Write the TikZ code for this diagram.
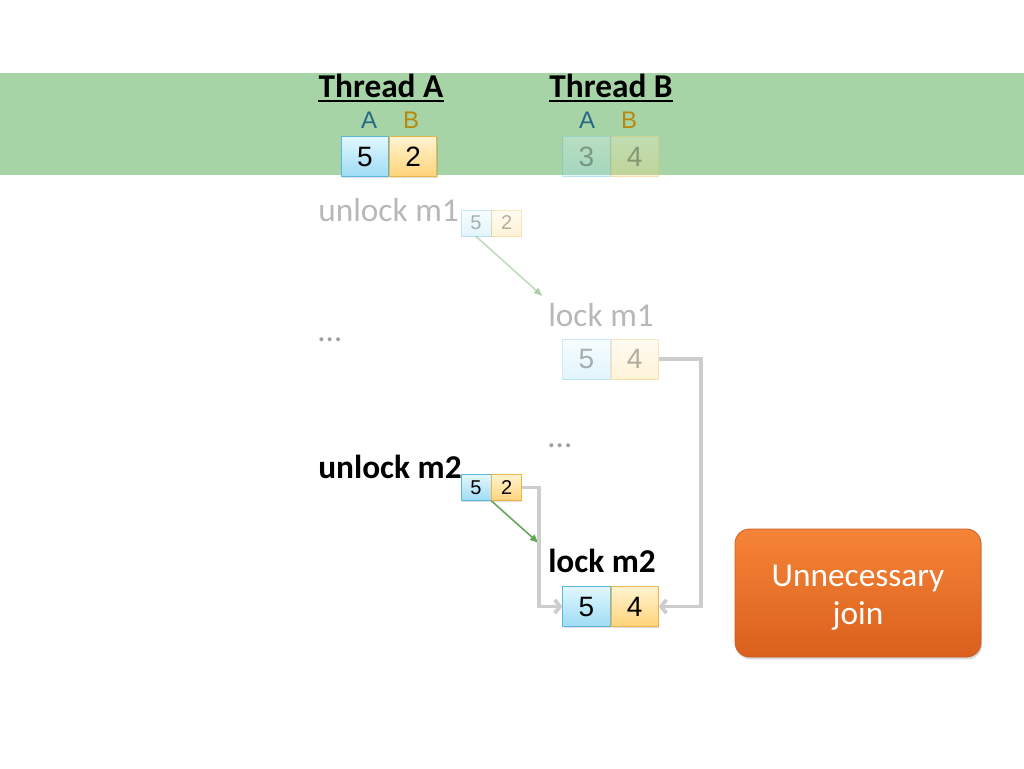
\documentclass[tikz,border=0pt]{standalone}
\usepackage{fontspec}
\setmainfont{Carlito}
\newfontfamily\digitfont{Liberation Sans}
\usetikzlibrary{positioning}
\usetikzlibrary{shadows}
\usetikzlibrary{arrows.meta}

\definecolor{bandgreen}{RGB}{166,212,166}
\definecolor{labelA}{RGB}{38,104,134}
\definecolor{labelB}{RGB}{184,136,12}
\definecolor{cellAtop}{RGB}{226,247,254}
\definecolor{cellAbot}{RGB}{158,220,245}
\definecolor{cellAline}{RGB}{92,182,218}
\definecolor{cellBtop}{RGB}{255,243,208}
\definecolor{cellBbot}{RGB}{255,212,122}
\definecolor{cellBline}{RGB}{234,182,72}
\definecolor{jointop}{RGB}{246,132,56}
\definecolor{joinbot}{RGB}{218,96,28}
\definecolor{joinline}{RGB}{200,92,40}
\definecolor{arrowgreen}{RGB}{98,168,88}
\definecolor{wiregray}{RGB}{205,205,205}
\definecolor{fadetext}{RGB}{160,160,160}

\tikzset{
  thread/.style={anchor=base, inner sep=0pt, font=\fontsize{25}{30}\selectfont\bfseries},
  stmt/.style={anchor=base west, inner sep=0pt, font=\fontsize{25}{30}\selectfont},
  lblA/.style={inner sep=0pt, text=labelA, font=\digitfont\fontsize{18}{18}\selectfont},
  lblB/.style={inner sep=0pt, text=labelB, font=\digitfont\fontsize{18}{18}\selectfont},
  cellbig/.style={minimum width=35.5pt, minimum height=30pt, inner sep=0pt, line width=0.6pt,
    font=\digitfont\fontsize{21}{21}\selectfont},
  cellsmall/.style={minimum width=22.5pt, minimum height=19.5pt, inner sep=0pt, line width=0.5pt,
    font=\digitfont\fontsize{15}{15}\selectfont},
  cellA/.style={draw=cellAline, top color=cellAtop, bottom color=cellAbot},
  cellB/.style={draw=cellBline, top color=cellBtop, bottom color=cellBbot},
  lifted/.style={drop shadow={shadow xshift=0.6pt, shadow yshift=-1.2pt, opacity=0.25}},
  faded/.style={opacity=0.3},
  hb/.style={arrowgreen, line width=1.2pt, -{Latex[length=7pt,width=6pt]}},
  wire/.style={wiregray, line width=2.8pt, -{Straight Barb[length=4pt,width=10pt]}},
  joinbox/.style={rounded corners=11pt, minimum width=184.5pt, minimum height=96pt,
    top color=jointop, bottom color=joinbot, draw=joinline, line width=0.6pt, text=white,
    align=center, font=\fontsize{25}{29}\selectfont,
    drop shadow={shadow xshift=0.8pt, shadow yshift=-1.8pt, opacity=0.3}}
}

\begin{document}
\begin{tikzpicture}[x=0.75pt,y=-0.75pt]
    \useasboundingbox (0,0) rectangle (1024,768);

    %Shape: Rectangle [band]
    \fill [bandgreen] (0,73) rectangle (1024,175);

    % Text Node
    \node [thread] (thA) at (381,97) {Thread A};
    \draw [line width=1.5pt] ([shift={(0,4)}]thA.base west) -- ([shift={(0,4)}]thA.base east);
    % Text Node
    \node [thread] (thB) at (611,97) {Thread B};
    \draw [line width=1.5pt] ([shift={(0,4)}]thB.base west) -- ([shift={(0,4)}]thB.base east);

    % Thread A values
    \node [cellbig, cellA, lifted] (tAa) at (365,156.5) {5};
    \node [cellbig, cellB, lifted, right=0pt of tAa] (tAb) {2};
    \node [lblA] at (369,120) {A};
    \node [lblB] at (411,120) {B};

    % Thread B values
    \node [cellbig, cellA, faded] (tBa) at (586.5,156.5) {3};
    \node [cellbig, cellB, faded, right=0pt of tBa] (tBb) {4};
    \node [lblA] at (587,120) {A};
    \node [lblB] at (629,120) {B};

    % Text Node
    \node [stmt, text=fadetext, opacity=0.75] (unl1) at (318,221) {unlock m1};
    \node [cellsmall, cellA, faded] (u1a) at (476,223) {5};
    \node [cellsmall, cellB, faded, right=0pt of u1a] (u1b) {2};

    % Text Node
    \node [stmt, text=fadetext, opacity=0.75] (lk1) at (548,326) {lock m1};
    \node [cellbig, cellA, faded] (l1a) at (586.5,359) {5};
    \node [cellbig, cellB, faded, right=0pt of l1a] (l1b) {4};

    % Text Node
    \node [stmt, text=fadetext] (dotsA) at (318,341) {…};
    \node [stmt, text=fadetext] (dotsB) at (548,447) {…};

    % Text Node
    \node [stmt, font=\fontsize{25}{30}\selectfont\bfseries] (unl2) at (318,478) {unlock m2};
    \node [cellsmall, cellA, lifted] (u2a) at (476,487.5) {5};
    \node [cellsmall, cellB, lifted, right=0pt of u2a] (u2b) {2};

    % Text Node
    \node [stmt, font=\fontsize{25}{30}\selectfont\bfseries] (lk2) at (548,572) {lock m2};
    \node [cellbig, cellA, lifted] (l2a) at (586.5,606.5) {5};
    \node [cellbig, cellB, lifted, right=0pt of l2a] (l2b) {4};

    %Straight Lines [happens-before]
    \draw [hb, opacity=0.4] (u1a.south) -- ([shift={(-5,-6)}]lk1.north west);
    \draw [hb] (u2a.south east) -- ([shift={(-9,-5)}]lk2.north west);

    %Elbow Lines [join]
    \draw [wire] (u2b.east) -- ++(17,0) |- (l2a.west);
    \draw [wire] (l1b.east) -- ++(42,0) |- (l2b.east);

    %Shape: Rounded Rectangle [note]
    \node [joinbox] (join) at (858,593) {\rule{0pt}{23pt}Unnecessary\\join};

\end{tikzpicture}
\end{document}
